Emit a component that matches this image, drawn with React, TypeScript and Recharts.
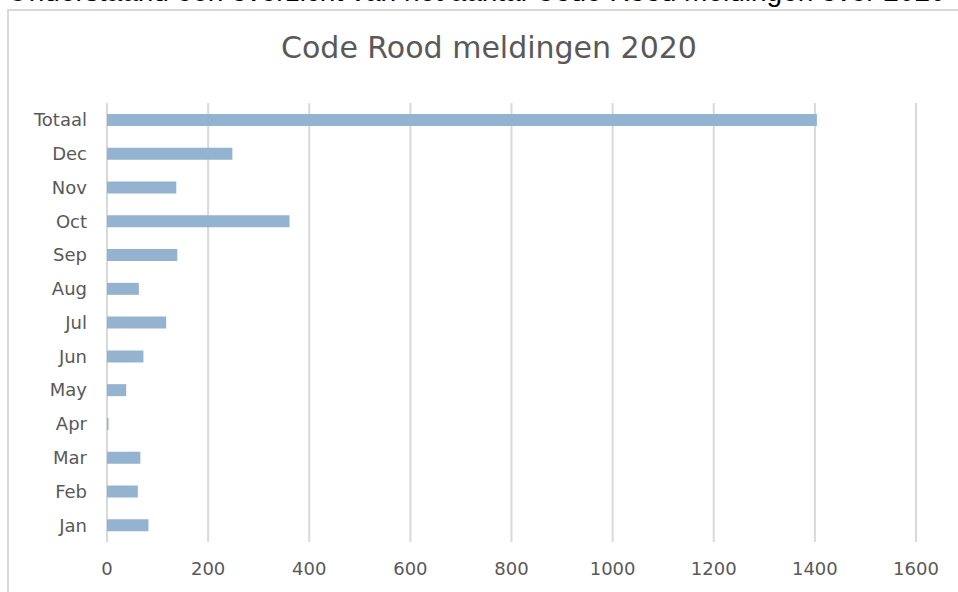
import { BarChart, Bar, XAxis, YAxis, CartesianGrid } from "recharts";

// months listed top to bottom as in the chart
const categories = ["Totaal", "Dec", "Nov", "Oct", "Sep", "Aug", "Jul", "Jun", "May", "Apr", "Mar", "Feb", "Jan"];
const meldingen = [1404, 248, 137, 361, 139, 63, 117, 72, 38, 3, 66, 61, 82];
const xTicks = [0, 200, 400, 600, 800, 1000, 1200, 1400, 1600];

const chartData = categories.map((name, i) => ({ name, value: meldingen[i] }));

const font = "'DejaVu Sans', sans-serif";
const textColor = "#595959";

export default function App() {
  return (
    <div style={{ position: "absolute", left: 0, top: 0, width: 958, height: 592, overflow: "hidden", background: "#fff" }}>
      <div
        style={{
          position: "absolute",
          left: 7,
          top: -24,
          fontFamily: "'Liberation Sans', Arial, sans-serif",
          fontSize: 28,
          color: "#000",
          whiteSpace: "nowrap",
        }}
      >
        Onderstaand een overzicht van het aantal Code Rood meldingen over 2020
      </div>
      <div
        style={{
          position: "absolute",
          left: 7,
          top: 9,
          width: 980,
          height: 620,
          borderLeft: "2px solid #d9d9d9",
          borderTop: "2px solid #d9d9d9",
        }}
      />
      <div
        style={{
          position: "absolute",
          left: 0,
          top: 30,
          width: 978,
          textAlign: "center",
          fontFamily: font,
          fontSize: 30,
          color: textColor,
        }}
      >
        Code Rood meldingen 2020
      </div>
      <div style={{ position: "absolute", left: 0, top: 0 }}>
        <BarChart
          width={958}
          height={592}
          data={chartData}
          layout="vertical"
          margin={{ top: 103, right: 42, bottom: 20, left: 0 }}
        >
          <CartesianGrid horizontal={false} stroke="#d9d9d9" strokeWidth={2} />
          <XAxis
            type="number"
            domain={[0, 1600]}
            ticks={xTicks}
            axisLine={false}
            tickLine={false}
            tickMargin={14}
            height={30}
            tick={{ fill: textColor, fontSize: 18, fontFamily: font }}
          />
          <YAxis
            type="category"
            dataKey="name"
            width={107}
            axisLine={false}
            tickLine={false}
            tickMargin={14}
            interval={0}
            tick={{ fill: textColor, fontSize: 18, fontFamily: font }}
          />
          <Bar dataKey="value" fill="#93b3d1" barSize={12} isAnimationActive={false} />
        </BarChart>
      </div>
    </div>
  );
}
